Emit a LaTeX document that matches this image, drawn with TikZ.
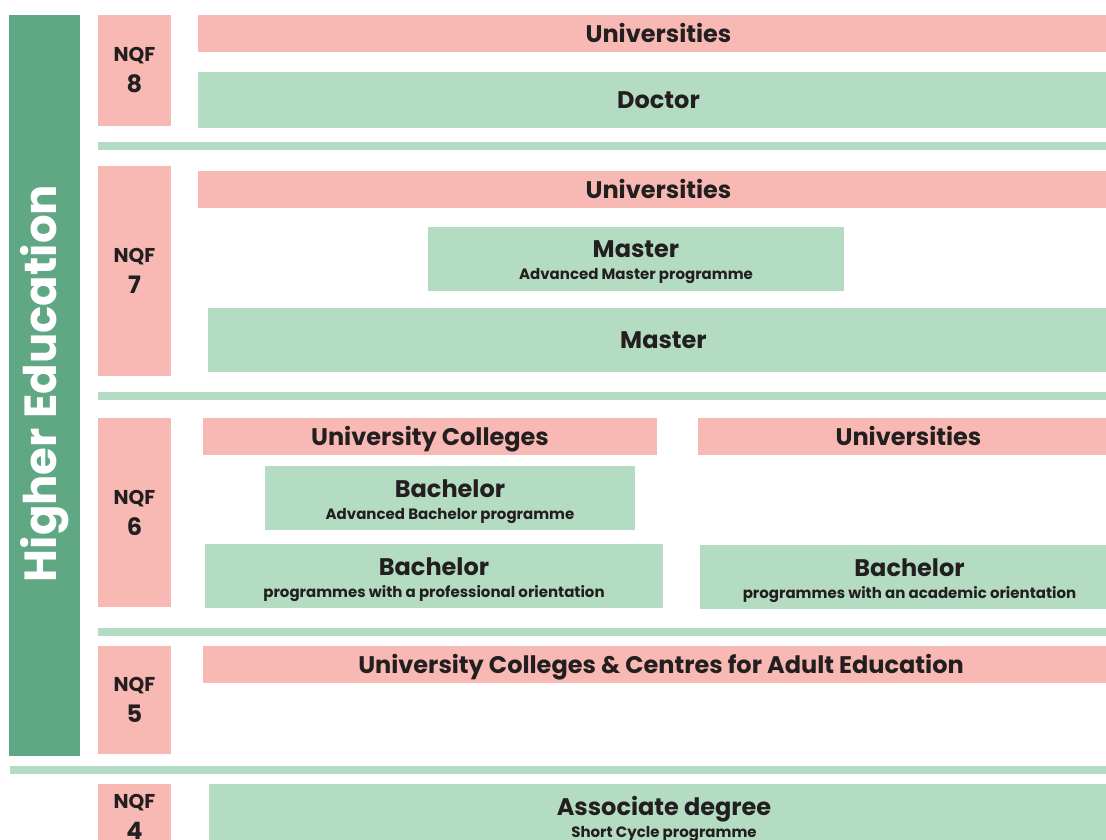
\documentclass[tikz,border=0pt]{standalone}
\usepackage{fontspec}
\setmainfont{Poppins}
\definecolor{pinkc}{HTML}{F8B9B4}
\definecolor{lgreen}{HTML}{B4DCC2}
\definecolor{dgreen}{HTML}{5FA883}
\definecolor{txt}{HTML}{231F20}
\newcommand{\smallt}[1]{{\fontsize{15}{22}\selectfont #1}}
\begin{document}
\begin{tikzpicture}[x=1pt,y=-1pt,
  every node/.style={inner sep=0pt,outer sep=0pt,anchor=north west,text=txt,align=center},
  pk/.style={fill=pinkc},
  gr/.style={fill=lgreen},
  sep/.style={fill=lgreen,minimum height=8pt},
  nqf/.style={fill=pinkc,minimum width=73pt},
  lbl/.style={anchor=center,text height=17pt,text depth=0pt,font=\fontsize{24}{22}\selectfont\bfseries},
  lbltwo/.style={anchor=center,yshift=-3.5pt,font=\fontsize{24}{22}\selectfont\bfseries},
  nlbl/.style={anchor=center,font=\fontsize{24}{31}\selectfont\bfseries},
]
\useasboundingbox[fill=white] (0,0) rectangle (1106,839);
% side bar
\node[fill=dgreen,minimum width=71pt,minimum height=741pt] (he) at (9,15) {};
\node[rotate=90,anchor=center,text=white,font=\fontsize{45}{48}\selectfont\bfseries] (het) at ([yshift=2pt]he.center) {Higher Education};
% NQF 8
\node[nqf,minimum height=111pt] (n8) at (98,15) {};
\node[nlbl] (n8t) at (n8.center) {{\fontsize{20}{31}\selectfont NQF}\\8};
\node[pk,minimum width=921pt,minimum height=37pt] (u8) at (198,15) {};
\node[lbl] (u8t) at (u8.center) {Universities};
\node[gr,minimum width=921pt,minimum height=56pt] (doc) at (198,72) {};
\node[lbl] (doct) at (doc.center) {Doctor};
\node[sep,minimum width=1008pt] (s1) at (98,142) {};
% NQF 7
\node[nqf,minimum height=210pt] (n7) at (98,166) {};
\node[nlbl] (n7t) at (n7.center) {{\fontsize{20}{31}\selectfont NQF}\\7};
\node[pk,minimum width=921pt,minimum height=37pt] (u7) at (198,171) {};
\node[lbl] (u7t) at (u7.center) {Universities};
\node[gr,minimum width=416pt,minimum height=64pt] (ma) at (428,227) {};
\node[lbltwo] (mat) at (ma.center) {Master\\\smallt{Advanced Master programme}};
\node[gr,minimum width=911pt,minimum height=64pt] (m) at (208,308) {};
\node[lbl] (mt) at (m.center) {Master};
\node[sep,minimum width=1008pt] (s2) at (98,392) {};
% NQF 6
\node[nqf,minimum height=189pt] (n6) at (98,418) {};
\node[nlbl] (n6t) at (n6.center) {{\fontsize{20}{31}\selectfont NQF}\\6};
\node[pk,minimum width=454pt,minimum height=37pt] (uc6) at (203,418) {};
\node[lbl] (uc6t) at (uc6.center) {University Colleges};
\node[pk,minimum width=421pt,minimum height=37pt] (u6) at (698,418) {};
\node[lbl] (u6t) at (u6.center) {Universities};
\node[gr,minimum width=370pt,minimum height=64pt] (ba) at (265,466) {};
\node[lbltwo] (bat) at (ba.center) {Bachelor\\\smallt{Advanced Bachelor programme}};
\node[gr,minimum width=458pt,minimum height=64pt] (bp) at (205,544) {};
\node[lbltwo] (bpt) at (bp.center) {Bachelor\\\smallt{programmes with a professional orientation}};
\node[gr,minimum width=419pt,minimum height=64pt] (bac) at (700,545) {};
\node[lbltwo] (bact) at (bac.center) {Bachelor\\\smallt{programmes with an academic orientation}};
\node[sep,minimum width=1008pt] (s3) at (98,628) {};
% NQF 5
\node[nqf,minimum height=108pt] (n5) at (98,646) {};
\node[nlbl] (n5t) at (n5.center) {{\fontsize{20}{31}\selectfont NQF}\\5};
\node[pk,minimum width=916pt,minimum height=37pt] (uc5) at (203,646) {};
\node[lbl] (uc5t) at (uc5.center) {University Colleges \& Centres for Adult Education};
\node[sep,minimum width=1096pt] (s4) at (10,766) {};
% NQF 4
\node[nqf,minimum height=62pt] (n4) at (98,784) {};
\node[nlbl] (n4t) at ([yshift=-2pt]n4.center) {{\fontsize{20}{31}\selectfont NQF}\\4};
\node[gr,minimum width=910pt,minimum height=68pt] (ad) at (209,784) {};
\node[lbltwo,yshift=2.5pt] (adt) at (ad.center) {Associate degree\\\smallt{Short Cycle programme}};
\end{tikzpicture}
\end{document}
